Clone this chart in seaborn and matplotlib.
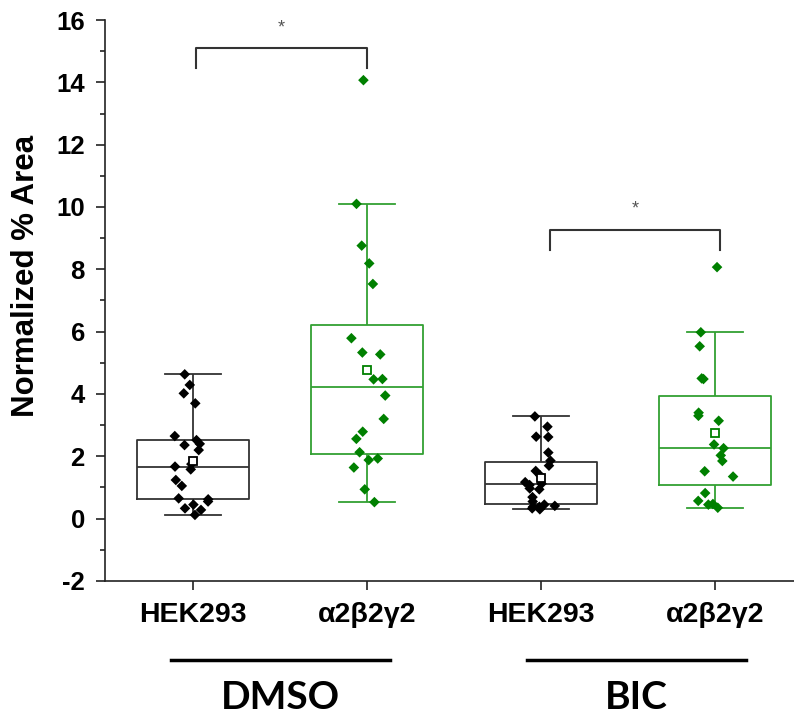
import numpy as np
import pandas as pd
import matplotlib
matplotlib.use("Agg")
import matplotlib.pyplot as plt
from matplotlib.ticker import MultipleLocator
import seaborn as sns

# 데이터
conditions = ["DMSO", "BIC"]
genotypes = ["HEK293", "α2β2γ2"]

dmso_hek = [0.12, 0.28, 0.33, 0.45, 0.55, 0.62, 0.65, 1.05, 1.24, 1.58, 1.67,
            1.75, 2.20, 2.36, 2.40, 2.52, 2.65, 3.70, 4.02, 4.29, 4.63]
dmso_a2b2g2 = [0.53, 0.94, 1.64, 1.88, 1.93, 2.13, 2.56, 2.79, 3.20, 3.95,
               4.47, 4.48, 5.27, 5.33, 5.79, 7.53, 8.19, 8.76, 10.10, 14.07]
bic_hek = [0.30, 0.33, 0.38, 0.38, 0.41, 0.45, 0.55, 0.69, 0.94, 0.97, 1.08,
           1.12, 1.17, 1.38, 1.53, 1.70, 1.86, 2.12, 2.62, 2.63, 2.95, 3.28]
bic_a2b2g2 = [0.35, 0.45, 0.47, 0.57, 0.82, 1.35, 1.52, 1.85, 2.03, 2.26,
              2.38, 3.14, 3.30, 3.40, 4.48, 4.50, 5.53, 5.98, 8.07]

yticks = list(range(-2, 17, 2))

# 긴 형식 데이터프레임
series = {
    ("DMSO", "HEK293"): dmso_hek,
    ("DMSO", "α2β2γ2"): dmso_a2b2g2,
    ("BIC", "HEK293"): bic_hek,
    ("BIC", "α2β2γ2"): bic_a2b2g2,
}
rows = []
for (cond, geno), vals in series.items():
    for v in vals:
        rows.append({"group": f"{cond} {geno}", "genotype": geno, "value": v})
df = pd.DataFrame(rows)
order = [f"{c} {g}" for c in conditions for g in genotypes]

point_colors = {"HEK293": "#000000", "α2β2γ2": "#008000"}
box_colors = {"HEK293": "#333333", "α2β2γ2": "#33a033"}

plt.rcParams["font.family"] = ["Liberation Sans", "DejaVu Sans"]
plt.rcParams["axes.unicode_minus"] = False

fig = plt.figure(figsize=(7.94, 7.20), dpi=100)
ax = fig.add_axes([0.1322, 0.1931, 0.8678, 0.7791])

# 박스플롯 (유전형별로 색 지정)
for geno in genotypes:
    sub = df[df["genotype"] == geno]
    sns.boxplot(
        data=sub, x="group", y="value", order=order,
        color=box_colors[geno], fill=False, width=0.64, whis=1.3,
        showfliers=False, linewidth=1.3, ax=ax,
        showmeans=True,
        meanprops=dict(marker="s", markerfacecolor="white",
                       markeredgecolor=point_colors[geno], markersize=5.5,
                       markeredgewidth=1.3, zorder=6),
    )

# 개별 데이터 점
np.random.seed(3)
sns.stripplot(
    data=df, x="group", y="value", order=order, hue="genotype",
    palette=point_colors, marker="D", size=5.4, jitter=0.11,
    legend=False, zorder=4, ax=ax,
)

# 축 설정
ax.set_xlim(-0.506, 3.454)
ax.set_ylim(-2, 16)
ax.set_yticks(yticks)
ax.yaxis.set_minor_locator(MultipleLocator(1))
ax.set_xticks(range(len(order)))
ax.set_xticklabels([g for c in conditions for g in genotypes])
ax.set_xlabel("")
ax.set_ylabel("Normalized % Area", fontsize=22.5, fontweight="bold")
ax.yaxis.set_label_coords(-0.093, 0.544)
for s in ["top", "right"]:
    ax.spines[s].set_visible(False)
for s in ["left", "bottom"]:
    ax.spines[s].set_linewidth(1.2)
    ax.spines[s].set_color("#222222")
ax.tick_params(axis="both", which="major", direction="out", length=6.5,
               width=1.2, color="#222222")
ax.tick_params(axis="y", which="major", labelsize=18.5, pad=8)
ax.tick_params(axis="x", which="major", labelsize=20.5, pad=9)
ax.tick_params(axis="y", which="minor", direction="out", length=3.5,
               width=1.2, color="#222222")
for lab in ax.get_xticklabels() + ax.get_yticklabels():
    lab.set_fontweight("bold")

# 유의성 표시
brackets = [(0.02, 1.0, 15.09, 14.47, 15.75), (2.05, 3.03, 9.26, 8.62, 9.95)]
for x0, x1, ytop, yleg, ystar in brackets:
    ax.plot([x0, x0, x1, x1], [yleg, ytop, ytop, yleg], color="#333333",
            lw=1.5, clip_on=False)
    ax.text((x0 + x1) / 2, ystar, "*", ha="center", va="center",
            fontsize=13, color="#555555")

# 처리 조건 라벨
trans = ax.get_xaxis_transform()
cond_spans = {"DMSO": (-0.126, 1.132), "BIC": (1.92, 3.178)}
for cond in conditions:
    x0, x1 = cond_spans[cond]
    ax.plot([x0, x1], [-0.1408, -0.1408], color="black", lw=2.5,
            transform=trans, clip_on=False)
    ax.text((x0 + x1) / 2, -0.207, cond, transform=trans, ha="center",
            va="center", fontsize=28, fontweight="bold", family="Lato")

plt.savefig("out.png", dpi=100)
